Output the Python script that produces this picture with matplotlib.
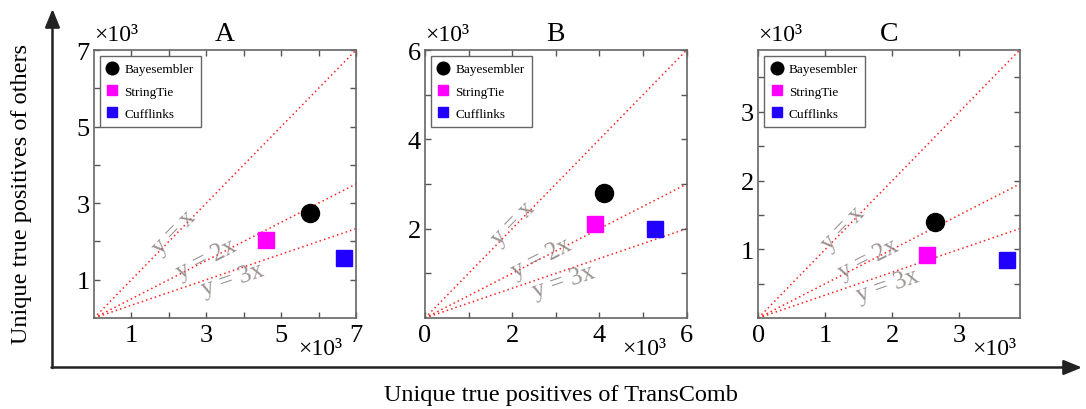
import matplotlib
matplotlib.use("Agg")
import matplotlib.pyplot as plt
import numpy as np

plt.rcParams['font.family'] = ['Liberation Serif', 'DejaVu Serif']

# ---- data (values in thousands) ----
panels = ["A", "B", "C"]
methods = ["Bayesembler", "StringTie", "Cufflinks"]
transcomb_A = [5.77, 4.59, 6.69]
others_A = [2.75, 2.04, 1.56]
transcomb_B = [4.10, 3.89, 5.27]
others_B = [2.80, 2.10, 1.99]
transcomb_C = [2.63, 2.51, 3.71]
others_C = [1.39, 0.92, 0.84]
axis_max = [7, 6, 3.9]
ratios = [1, 2, 3]
ratio_labels = ["y = x", "y = 2x", "y = 3x"]
x_major = [[1, 3, 5, 7], [0, 2, 4, 6], [0, 1, 2, 3]]
x_minor = [[2, 4, 6], [1, 3, 5], []]
y_major = [[1, 3, 5, 7], [2, 4, 6], [1, 2, 3]]
y_minor = [[2, 4, 6], [1, 3, 5], [0.5, 1.5, 2.5, 3.5]]

# label positions (data coords) for the ratio lines
label_pos = [
    [(2.14, 2.26), (3.01, 1.56), (3.72, 1.00)],
    [(2.02, 2.14), (2.68, 1.36), (3.19, 0.82)],
    [(1.27, 1.31), (1.64, 0.87), (1.93, 0.48)],
]

xs = [transcomb_A, transcomb_B, transcomb_C]
ys = [others_A, others_B, others_C]

colors = ["black", "#ff00ff", "#2200ff"]
markers = ["o", "s", "s"]
msizes = [13, 11, 11]

W, H = 1086, 410
fig = plt.figure(figsize=(W / 100, H / 100), dpi=100)

# background axes in pixel coords for arrows / global labels
bg = fig.add_axes([0, 0, 1, 1], zorder=0)
bg.set_xlim(0, W)
bg.set_ylim(H, 0)
bg.axis("off")
arrow_kw = dict(arrowstyle="-|>,head_length=1.1,head_width=0.45", color="#222222", lw=1.8,
                shrinkA=0, shrinkB=0)
bg.annotate("", xy=(52.5, 10), xytext=(52.5, 369), arrowprops=arrow_kw)
bg.annotate("", xy=(1082, 368.5), xytext=(51.5, 368.5), arrowprops=arrow_kw)
bg.text(22, 194, "Unique true positives of others", rotation=90, ha="center", va="center",
        fontsize=17.5)
bg.text(561, 396, "Unique true positives of TransComb", ha="center", va="center", fontsize=17.5)

lefts = [94, 425, 758.3]
widths = [262, 261.7, 261.4]
bottom_xoff = [14, 20, 3]

for i in range(3):
    L = lefts[i]
    ax = fig.add_axes([L / W, (H - 319) / H, widths[i] / W, 268 / H], zorder=2)
    m = axis_max[i]
    ax.set_xlim(0, m)
    ax.set_ylim(0, m)
    ax.set_facecolor("white")
    for s in ax.spines.values():
        s.set_color("#666666")
        s.set_linewidth(1.2)
    xx = np.array([0, m])
    for k, r in enumerate(ratios):
        ax.plot(xx, xx / r, linestyle=(0, (1, 2)), color="#ff2020", lw=1.1, zorder=1)
    for k, r in enumerate(ratios):
        ang = np.degrees(np.arctan(1.0 / r))
        px, py = label_pos[i][k]
        ax.text(px, py, ratio_labels[k], rotation=ang, transform_rotates_text=True,
                rotation_mode="anchor", ha="center", va="center", fontsize=18,
                color="#8c8080", alpha=0.85, zorder=2)
    for j in range(3):
        ax.plot(xs[i][j], ys[i][j], linestyle="none", marker=markers[j], color=colors[j],
                markersize=msizes[j], label=methods[j], zorder=3)
    ax.set_xticks(x_major[i])
    ax.set_xticks(x_minor[i], minor=True)
    ax.set_yticks(y_major[i])
    ax.set_yticks(y_minor[i], minor=True)
    ax.set_xticklabels([str(v) for v in x_major[i]])
    ax.set_yticklabels([str(v) for v in y_major[i]])
    ax.tick_params(which="both", direction="in", top=True, right=True, length=4,
                   width=1, color="#555555", labelsize=19)
    ax.tick_params(axis="x", pad=4)
    ax.tick_params(axis="y", pad=3)
    leg = ax.legend(loc="upper left", fontsize=9.5, markerscale=0.7, fancybox=False,
                    edgecolor="#666666", framealpha=1, borderaxespad=0.45,
                    handletextpad=0.5, labelspacing=0.75, borderpad=0.55, handlelength=0.8)
    leg.get_frame().set_linewidth(1.0)
    ax.set_title(panels[i], fontsize=20, pad=7)
    ax.text(0, 1.02, "×10³", transform=ax.transAxes, ha="left", va="bottom", fontsize=17)
    bg.text(L + widths[i] - bottom_xoff[i], 350, "×10³", ha="right", va="center", fontsize=17)

fig.savefig("out.png", dpi=100)
